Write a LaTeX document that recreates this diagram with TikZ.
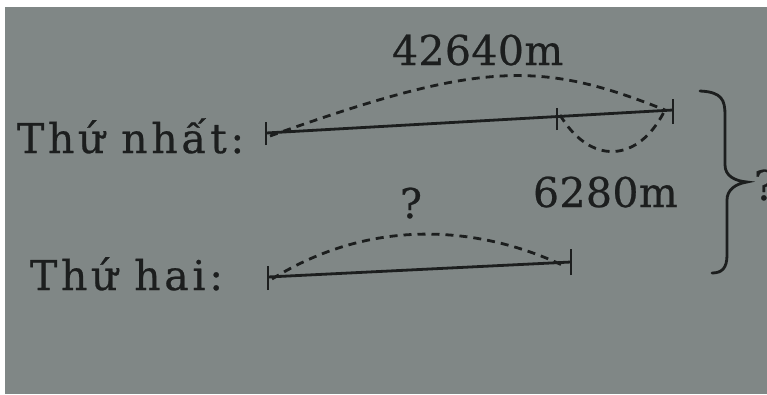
\documentclass[tikz,border=0pt]{standalone}
\usepackage{fontspec}
\setmainfont{DejaVu Serif}
\newfontfamily\wideserif[LetterSpace=9,FakeBold=0.6]{DejaVu Serif}
\newfontfamily\numserif[LetterSpace=1,FakeBold=0.6]{DejaVu Serif}
\definecolor{paper}{RGB}{128,135,134}
\definecolor{ink}{RGB}{28,30,30}
\tikzset{
  lbl/.style={inner sep=0pt, outer sep=0pt, anchor=base west, text=ink, font=\fontsize{41}{48}\numserif},
  wlbl/.style={lbl, font=\fontsize{41}{48}\wideserif},
  seg/.style={draw=ink, line width=2.8pt},
  tickmark/.style={draw=ink, line width=2.8pt},
  dsh/.style={draw=ink, line width=2.8pt, dash pattern=on 8pt off 6pt},
  bracepath/.style={draw=ink, line width=2.8pt, line cap=round}
}
\begin{document}
\begin{tikzpicture}[x=1pt,y=-1pt]
\useasboundingbox (0,0) rectangle (767,394);
\clip (0,0) rectangle (767,394);
\fill[white] (0,0) rectangle (767,394);
\fill[paper] (5,7) rectangle (767,394);

% labels
\node[wlbl] (l1) at (17,153) {Thứ nhất:};
\node[wlbl] (l2) at (30,290) {Thứ hai:};
\node[lbl] (t1) at (392,65) {42640m};
\node[lbl] (t2) at (533,207) {6280m};
\node[lbl] (q1) at (400,218) {?};
\node[lbl] (q2) at (754,200) {?};

% first segment
\coordinate (A1) at (266,133);
\coordinate (M1) at (557,118);
\coordinate (B1) at (673,110);
\draw[seg] (A1) -- (B1);
\draw[tickmark] ([yshift=-12pt]A1) -- ([yshift=11pt]A1);
\draw[tickmark] ([yshift=-12pt]M1) -- ([yshift=10pt]M1);
\draw[tickmark] ([yshift=-14pt]B1) -- ([yshift=11pt]B1);
\draw[dsh] ([xshift=4pt,yshift=-3pt]A1) .. controls (480,61) and (540,60) .. ([xshift=-8pt]B1);
\draw[dsh] ([xshift=3pt,yshift=3pt]M1) .. controls (590,165) and (638,164) .. ([xshift=-8pt]B1);

% second segment
\coordinate (A2) at (268,277);
\coordinate (B2) at (571,262);
\draw[seg] (A2) -- (B2);
\draw[tickmark] ([yshift=-13pt]A2) -- ([yshift=11pt]A2);
\draw[tickmark] ([yshift=-13pt]B2) -- ([yshift=13pt]B2);
\draw[dsh] ([xshift=4pt,yshift=-2pt]A2) .. controls (380,212) and (490,231) .. ([xshift=-9pt,yshift=-3pt]B2);

% brace
\coordinate (BrT) at (700,91);
\coordinate (BrP) at (747,182);
\coordinate (BrB) at (712,273);
\draw[bracepath] (BrT) .. controls (722,92) and (725,100) .. (725,115) -- (725,165)
  .. controls (725,176) and (735,181) .. (BrP)
  .. controls (735,184) and (727,190) .. (727,200) -- (727,255)
  .. controls (727,268) and (722,273) .. (BrB);
\end{tikzpicture}
\end{document}
